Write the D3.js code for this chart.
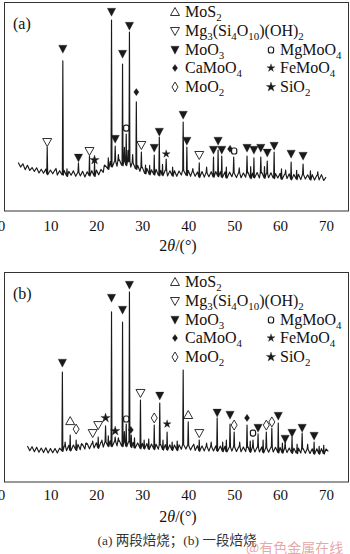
<!DOCTYPE html>
<html><head><meta charset="utf-8">
<script src="https://cdn.jsdelivr.net/npm/d3@7"></script>
<style>body{margin:0;background:#fff}svg{display:block}</style>
</head><body><svg id="c" width="350" height="554"></svg>
<script>
// ---------- data ----------
const xTicks = [0,10,20,30,40,50,60,70];
const xTitle = "2θ/(°)";
const caption = "(a) 两段焙烧；(b) 一段焙烧";
const watermark = "@有色金属在线";
const legendCol1 = ["MoS2","Mg3(Si4O10)(OH)2","MoO3","CaMoO4","MoO2"];
const legendCol2 = ["MgMoO4","FeMoO4","SiO2"];

// panel (a): baseline samples [2θ, intensity %]
const baseA = [[3,23.2],[3.5,21.0],[4,22.6],[4.5,19.8],[5,21.9],[5.5,19.4],[6,20.8],[6.5,18.9],[7,20.7],[7.5,18.2],[8,20.0],[8.5,18.1],[9,20.1],[9.5,17.7],[10,19.6],[10.5,17.8],[11,19.7],[11.5,17.2],[12,19.3],[12.5,17.4],[13,19.4],[13.5,16.8],[14,19.0],[14.5,17.1],[15,19.2],[15.5,16.6],[16,18.7],[16.5,16.8],[17,19.0],[17.5,16.3],[18,18.8],[18.5,17.0],[19,19.3],[19.5,16.8],[20,19.6],[20.5,17.3],[21,19.9],[21.5,18.5],[22,21.6],[22.5,20.2],[23,23.6],[23.5,21.3],[24,24.1],[24.5,21.4],[25,24.5],[25.5,21.9],[26,24.2],[26.5,22.0],[27,23.9],[27.5,21.0],[28,23.3],[28.5,20.2],[29,21.8],[29.5,19.0],[30,21.0],[30.5,18.0],[31,20.4],[31.5,17.6],[32,19.7],[32.5,17.5],[33,19.9],[33.5,17.1],[34,19.4],[34.5,17.2],[35,19.6],[35.5,16.8],[36,19.2],[36.5,16.9],[37,19.3],[37.5,16.6],[38,19.1],[38.5,17.2],[39,19.7],[39.5,17.2],[40,19.4],[40.5,16.6],[41,19.1],[41.5,16.6],[42,18.7],[42.5,16.3],[43,18.9],[43.5,16.2],[44,18.5],[44.5,16.4],[45,18.8],[45.5,16.4],[46,18.9],[46.5,16.7],[47,18.8],[47.5,16.3],[48,18.7],[48.5,16.0],[49,18.6],[49.5,16.4],[50,18.5],[50.5,16.0],[51,18.5],[51.5,15.9],[52,18.2],[52.5,16.2],[53,18.5],[53.5,15.8],[54,18.1],[54.5,16.1],[55,18.4],[55.5,15.8],[56,18.5],[56.5,15.9],[57,18.0],[57.5,15.9],[58,18.3],[58.5,15.8],[59,17.9],[59.5,15.8],[60,18.0],[60.5,15.4],[61,17.7],[61.5,15.5],[62,17.8],[62.5,15.2],[63,17.5],[63.5,15.3],[64,17.6],[64.5,15.0],[65,17.7],[65.5,15.3],[66,17.3],[66.5,15.1],[67,17.4],[67.5,14.8],[68,17.1],[68.5,14.9],[69,17.4],[69.5,14.6],[70,16.2]];
// panel (a): peaks [2θ, top intensity %]
const peaksA = [[9.3,30.6],[11.2,20.4],[12.7,71.8],[13.6,20.2],[16.1,23.0],[18.5,26.3],[19.6,23.4],[21.8,22.0],[22.6,25.5],[23.3,91.4],[24.1,31.1],[24.8,27.0],[25.7,70.3],[26.1,30.5],[26.5,36.8],[26.9,29.0],[27.2,85.6],[27.9,27.0],[28.7,52.2],[29.8,28.2],[30.7,22.0],[31.6,21.8],[32.6,26.8],[33.7,35.4],[34.4,22.3],[35.2,24.9],[36.6,21.0],[38.9,42.6],[39.7,30.6],[41.0,20.3],[42.4,23.0],[44.0,21.0],[45.5,25.8],[46.5,29.2],[47.3,26.3],[48.3,21.0],[49.9,25.8],[51.1,20.6],[52.8,26.3],[53.6,21.2],[54.3,25.4],[55.8,25.8],[56.6,21.3],[57.2,23.9],[58.7,28.2],[60.3,20.2],[61.2,19.6],[62.4,23.4],[63.6,19.5],[65.0,22.5],[66.6,19.2],[68.2,18.8]];
// panel (a): phase markers [phase, 2θ, intensity %]
const markersA = [["Mg3(Si4O10)(OH)2",9.3,33.0],["MoO3",12.7,77.5],["MoO3",16.1,25.4],["Mg3(Si4O10)(OH)2",18.5,28.7],["SiO2",19.6,24.4],["MoO3",23.3,95.2],["MoO3",24.1,34.4],["MoO3",25.7,75.1],["MgMoO4",26.5,39.7],["MoO3",27.2,88.5],["CaMoO4",28.7,56.9],["Mg3(Si4O10)(OH)2",29.8,31.6],["MoO3",32.6,30.1],["MoO3",33.7,37.8],["FeMoO4",35.2,27.3],["MoO3",38.9,45.9],["MoO3",39.7,33.5],["Mg3(Si4O10)(OH)2",42.4,26.8],["MoO3",45.5,29.2],["MoO3",46.5,33.5],["MoO3",47.3,29.2],["CaMoO4",49.1,29.7],["MgMoO4",50.0,28.7],["MoO3",52.8,30.1],["MoO3",54.3,29.2],["MoO3",55.8,30.1],["MoO3",57.2,27.8],["MoO3",58.7,31.1],["MoO3",62.4,27.3],["MoO3",65.0,26.3]];

// panel (b)
const baseB = [[5,17.2],[5.5,14.9],[6,16.8],[6.5,14.4],[7,16.5],[7.5,14.2],[8,16.2],[8.5,14.0],[9,16.3],[9.5,13.8],[10,16.0],[10.5,13.9],[11,16.0],[11.5,13.8],[12,16.1],[12.5,14.8],[13,17.1],[13.5,14.9],[14,17.5],[14.5,15.1],[15,17.6],[15.5,15.3],[16,17.9],[16.5,15.4],[17,17.9],[17.5,15.7],[18,18.3],[18.5,15.8],[19,18.3],[19.5,16.2],[20,18.7],[20.5,16.3],[21,19.0],[21.5,16.6],[22,19.3],[22.5,17.1],[23,19.6],[23.5,17.1],[24,19.6],[24.5,17.2],[25,19.7],[25.5,17.1],[26,19.5],[26.5,17.1],[27,19.2],[27.5,16.7],[28,18.9],[28.5,16.4],[29,18.6],[29.5,16.1],[30,18.4],[30.5,16.0],[31,18.3],[31.5,15.8],[32,18.1],[32.5,15.7],[33,18.0],[33.5,15.6],[34,17.9],[34.5,15.5],[35,17.8],[35.5,15.4],[36,17.7],[36.5,15.3],[37,17.6],[37.5,15.2],[38,17.7],[38.5,15.6],[39,18.0],[39.5,15.7],[40,17.7],[40.5,15.2],[41,17.4],[41.5,15.0],[42,17.3],[42.5,14.9],[43,17.2],[43.5,14.8],[44,17.1],[44.5,14.7],[45,17.1],[45.5,14.8],[46,17.2],[46.5,14.9],[47,17.1],[47.5,14.7],[48,17.0],[48.5,14.6],[49,16.9],[49.5,14.7],[50,17.0],[50.5,14.5],[51,16.8],[51.5,14.4],[52,16.7],[52.5,14.5],[53,16.8],[53.5,14.4],[54,16.7],[54.5,14.3],[55,16.6],[55.5,14.3],[56,16.7],[56.5,14.2],[57,16.5],[57.5,14.2],[58,16.6],[58.5,14.3],[59,16.5],[59.5,14.1],[60,16.4],[60.5,14.0],[61,16.3],[61.5,14.0],[62,16.2],[62.5,13.9],[63,16.1],[63.5,13.8],[64,16.1],[64.5,13.8],[65,16.0],[65.5,13.7],[66,15.9],[66.5,13.6],[67,15.8],[67.5,13.5],[68,15.8],[68.5,13.5],[69,15.9],[69.5,13.6],[70,15.7],[70.5,14.6]];
const peaksB = [[12.6,52.4],[13.2,19.0],[14.3,22.4],[15.6,20.0],[16.8,18.3],[17.8,18.6],[19.2,19.5],[20.4,21.4],[21.2,20.0],[22.0,26.7],[22.6,22.0],[23.3,81.0],[24.1,21.4],[24.8,21.0],[25.7,76.2],[26.1,24.0],[26.5,27.6],[27.2,90.5],[27.6,22.4],[28.3,21.0],[29.6,39.0],[30.4,20.0],[31.4,20.5],[32.6,27.1],[33.8,37.6],[34.5,20.0],[35.4,23.8],[36.5,19.0],[37.6,19.5],[38.9,53.3],[40.0,28.6],[41.2,18.0],[42.4,20.0],[44.0,18.5],[45.0,19.0],[46.3,30.5],[47.5,19.0],[48.3,20.0],[49.1,27.6],[50.0,23.8],[51.2,19.0],[52.8,27.1],[53.5,19.5],[54.1,20.0],[55.2,22.9],[56.3,20.0],[57.0,23.8],[58.2,25.7],[59.6,28.1],[60.5,18.5],[61.1,19.0],[62.6,21.4],[63.7,18.0],[64.8,23.3],[66.0,18.0],[67.4,19.0],[68.5,17.0],[69.5,17.5]];
const markersB = [["MoO3",12.6,56.7],["MoS2",14.3,29.0],["MoO2",15.6,25.2],["Mg3(Si4O10)(OH)2",19.2,23.3],["Mg3(Si4O10)(OH)2",20.4,27.1],["SiO2",22.0,30.5],["MoO3",23.3,87.6],["SiO2",24.1,24.3],["MoO3",25.7,81.9],["MgMoO4",26.5,30.0],["MoO3",27.2,93.8],["CaMoO4",27.5,24.8],["Mg3(Si4O10)(OH)2",29.6,42.4],["MoO2",32.6,30.5],["MoO3",33.8,41.0],["FeMoO4",35.4,27.6],["MoS2",40.0,31.9],["Mg3(Si4O10)(OH)2",42.4,23.3],["MoO3",46.3,32.9],["MoO3",49.1,31.9],["MoO2",50.0,27.1],["CaMoO4",52.8,30.5],["MgMoO4",54.1,23.3],["MoO3",55.2,25.7],["MoO2",57.0,27.1],["MoO2",58.2,28.6],["MoO3",59.6,31.4],["MoO3",61.1,20.5],["MoO3",62.6,23.3],["MoO3",64.8,25.7],["MoO3",67.4,21.9]];

// ---------- drawing ----------
const svg = d3.select("#c");
const FONT = "'Liberation Serif','Times New Roman',serif";
const x = d3.scaleLinear().domain([0,75]).range([4.5,349]);
const ink = "#1a1a1a";

function symbolPath(type){
  switch(type){
    case "MoS2": return "M0,-4.5L4.5,3.5L-4.5,3.5Z";
    case "Mg3(Si4O10)(OH)2": return "M-4.5,-3.5L4.5,-3.5L0,4.5Z";
    case "MoO3": return "M-4.2,-3.8L4.2,-3.8L0,4.2Z";
    case "CaMoO4": return "M0,-3.6L2.6,0L0,3.6L-2.6,0Z";
    case "MoO2": return "M0,-5L3,0L0,5L-3,0Z";
    case "FeMoO4": return d3.symbol(d3.symbolStar, 20)();
    case "SiO2": return d3.symbol(d3.symbolStar, 28)();
  }
  return null;
}
function drawSymbol(g, type, cx, cy){
  if (type === "MgMoO4"){
    g.append("rect").attr("x",cx-2.6).attr("y",cy-3).attr("width",5.2).attr("height",6).attr("rx",2)
     .attr("fill","#fff").attr("stroke",ink).attr("stroke-width",1.2);
    return;
  }
  const open = (type==="MoS2"||type==="Mg3(Si4O10)(OH)2"||type==="MoO2");
  g.append("path").attr("d",symbolPath(type)).attr("transform",`translate(${cx},${cy})`)
   .attr("fill", open? "#fff": ink).attr("stroke", ink).attr("stroke-width", open?0.9:0.3)
   .attr("stroke-linejoin","miter");
}
function formula(t, str, fs){
  const runs = str.match(/\d+|\D+/g);
  let down = false;
  runs.forEach(r=>{
    const sub = /\d/.test(r[0]);
    const sp = t.append("tspan").text(r);
    if (sub){ sp.attr("font-size", fs*0.68); if(!down) sp.attr("dy", fs*0.28); down = true; }
    else { if(down) sp.attr("dy", -fs*0.28); down = false; }
  });
}

const panels = [
  {label:"(a)", base:baseA, peaks:peaksA, markers:markersA, top:2, bottom:211, tickY:232, titleY:251},
  {label:"(b)", base:baseB, peaks:peaksB, markers:markersB, top:272, bottom:482, tickY:501, titleY:522}
];

panels.forEach(p=>{
  const g = svg.append("g");
  const y = d3.scaleLinear().domain([0,100]).range([p.bottom, p.top]);
  g.append("rect").attr("x",4.5).attr("y",p.top+0.5).attr("width",344).attr("height",p.bottom-p.top-0.5)
   .attr("fill","none").attr("stroke","#333").attr("stroke-width",1);
  const w = 0.1;
  const nearest = t => p.base.reduce((a,b)=>Math.abs(b[0]-t)<Math.abs(a[0]-t)?b:a)[1];
  const pts = p.base.filter(b=>!p.peaks.some(k=>Math.abs(k[0]-b[0])<0.16)).map(b=>[b[0],b[1]]);
  p.peaks.forEach(k=>{
    const bl = nearest(k[0]);
    pts.push([k[0]-w, bl],[k[0],k[1]],[k[0]+w, bl-0.3]);
  });
  pts.sort((a,b)=>a[0]-b[0]);
  g.append("path").datum(pts)
   .attr("d", d3.line().x(d=>x(d[0])).y(d=>y(d[1])))
   .attr("fill","none").attr("stroke",ink).attr("stroke-width",1.15).attr("stroke-linejoin","round");
  p.markers.forEach(m=> drawSymbol(g, m[0], x(m[1]), y(m[2])));
  const ax = d3.axisBottom(x).tickValues(xTicks).tickSize(0).tickPadding(0);
  const axg = g.append("g").attr("transform",`translate(0,${p.tickY-12})`).call(ax);
  axg.select(".domain").remove();
  axg.selectAll("text").attr("font-family",FONT).attr("font-size",15).attr("fill","#111").attr("dy","0.71em");
  axg.selectAll(".tick").filter(d=>d===0).select("text").attr("x",-3.5);
  const tt = g.append("text").attr("x",178).attr("y",p.titleY).attr("text-anchor","middle")
    .attr("font-family",FONT).attr("font-size",16).attr("fill","#111");
  tt.append("tspan").text("2");
  tt.append("tspan").attr("font-style","italic").text("θ");
  tt.append("tspan").text("/(°)");
  g.append("text").attr("x",13).attr("y",p.top+27).attr("font-family",FONT).attr("font-size",16)
   .attr("fill","#111").text(p.label);
  const rowY = [10,29,48,66,85];
  legendCol1.forEach((name,i)=>{
    drawSymbol(g, name, 175, p.top+rowY[i]);
    const t = g.append("text").attr("x",185).attr("y",p.top+rowY[i]+5)
      .attr("font-family",FONT).attr("font-size",16).attr("fill","#111");
    formula(t, name, 16);
  });
  legendCol2.forEach((name,i)=>{
    drawSymbol(g, name, 271, p.top+rowY[i+2]);
    const t = g.append("text").attr("x",280).attr("y",p.top+rowY[i+2]+5)
      .attr("font-family",FONT).attr("font-size",16).attr("fill","#111");
    formula(t, name, 16);
  });
});

svg.append("text").attr("x",177).attr("y",545).attr("text-anchor","middle")
  .attr("font-family","'Liberation Serif','Noto Sans CJK SC',serif").attr("font-size",13.5).attr("fill","#333")
  .text(caption);
svg.append("text").attr("x",246).attr("y",553)
  .attr("font-family","'Noto Sans CJK SC',sans-serif").attr("font-size",14).attr("fill","#e08a8a")
  .attr("fill-opacity",0.75).text(watermark);
</script>
</body></html>
